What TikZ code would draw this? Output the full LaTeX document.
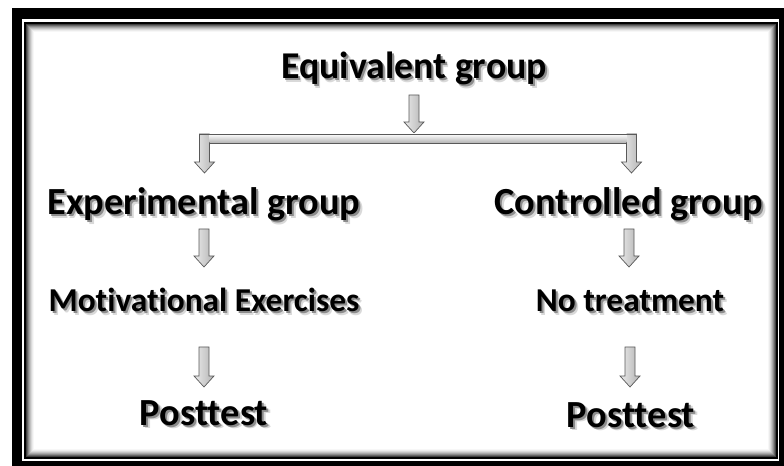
\documentclass[tikz,border=0pt]{standalone}
\usepackage{fontspec}
\setmainfont{Carlito}[Ligatures=NoCommon]
\usetikzlibrary{calc}

% vertical block arrow, shaft from #1 down to the tip at #2
\newcommand{\blockarr}[2]{%
  \path[arr] let \p1=(#1), \p2=(#2) in
    (\x1-5bp,\y1) -- (\x1-5bp,\y2+11bp) -- (\x1-10bp,\y2+11bp) -- (\x1,\y2)
    -- (\x1+10bp,\y2+11bp) -- (\x1+5bp,\y2+11bp) -- (\x1+5bp,\y1) -- cycle;}

\begin{document}
\begin{tikzpicture}[x=1bp, y=-1bp,
  lbl/.style={anchor=base, inner sep=0pt},
  arr/.style={draw=black!65, line width=0.7bp, left color=black!8, middle color=white, right color=black!30}]
\useasboundingbox (0,0) rectangle (784,466);
% double frame with inner shadow
\fill[black] (12,8) rectangle (784,466);
\fill[white] (22,19) rectangle (779,461);
\foreach \i/\c in {0/75,1/60,2/46,3/34,4/24,5/15,6/8,7/3}
  \draw[black!\c, line width=1bp] (26.5+\i,24.5+\i) rectangle (775.5-\i,456.5-\i);
\draw[line width=2bp] (25,23) rectangle (777,458);
% labels, each with a soft drop shadow
\foreach \nm/\px/\py/\fs/\txt in {eq/414/79/38/Equivalent group,
    exp/204/215/38.5/Experimental group, ctl/629/215/38.5/Controlled group,
    mot/204/312/33.5/Motivational Exercises, notr/630/312/33.5/No treatment,
    postL/204/425/38.5/Posttest, postR/631/427/38.5/Posttest} {
  \node[lbl, text=black!15, font=\fontsize{\fs}{\fs}\selectfont\bfseries] at (\px+3.5,\py+3.5) {\txt};
  \node[lbl, text=black!45, font=\fontsize{\fs}{\fs}\selectfont\bfseries] at (\px+2,\py+2) {\txt};
  \node[lbl, font=\fontsize{\fs}{\fs}\selectfont\bfseries] (\nm) at (\px,\py) {\txt};
}
% split bar
\coordinate (barC) at (414,133);
\coordinate (barL) at (204.5,134);
\coordinate (barR) at (631.5,134);
\blockarr{$(eq.base)+(0,16)$}{barC}
\blockarr{barL}{$(exp.base)+(0,-42)$}
\blockarr{barR}{$(ctl.base)+(0,-42)$}
\fill[top color=white, bottom color=black!30] (209.5,134) rectangle (626.5,143);
\draw[black!65, line width=0.7bp] (199.5,134) -- (636.5,134) (209.5,143) -- (626.5,143);
% columns
\blockarr{$(exp.base)+(0,14)$}{$(mot.base)+(0,-45)$}
\blockarr{$(ctl.base)+(0,14)$}{$(notr.base)+(0,-45)$}
\blockarr{$(mot.base)+(0,35)$}{$(postL.base)+(0,-38)$}
\blockarr{$(notr.base)+(0,35)$}{$(postR.base)+(0,-40)$}
\end{tikzpicture}
\end{document}
